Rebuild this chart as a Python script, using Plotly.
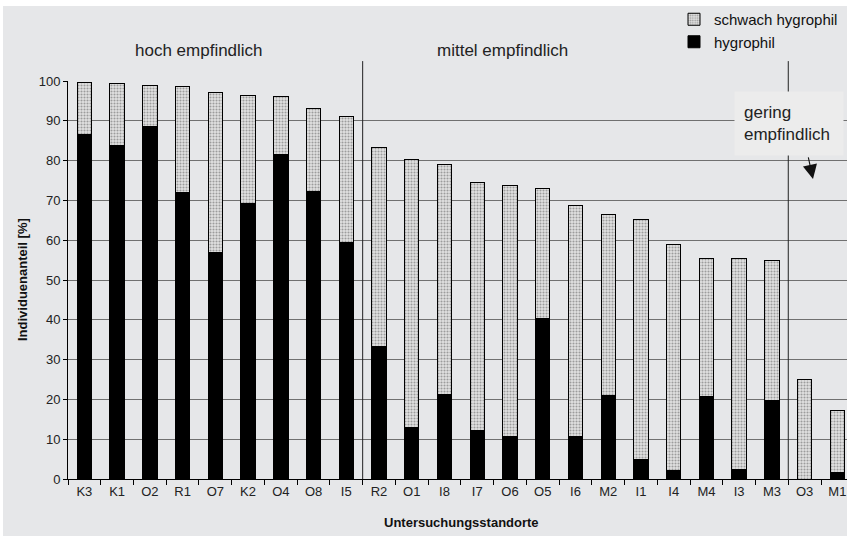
import plotly.graph_objects as go

categories = ["K3", "K1", "O2", "R1", "O7", "K2", "O4", "O8", "I5", "R2", "O1", "I8",
              "I7", "O6", "O5", "I6", "M2", "I1", "I4", "M4", "I3", "M3", "O3", "M1"]
total = [99.7, 99.3, 98.9, 98.7, 97.0, 96.3, 96.1, 93.0, 91.0, 83.3, 80.3, 79.1,
         74.5, 73.8, 73.1, 68.8, 66.5, 65.3, 59.0, 55.5, 55.3, 54.8, 25.0, 17.3]
hygrophil = [86.5, 83.7, 88.5, 72.0, 57.0, 69.2, 81.5, 72.3, 59.5, 33.3, 13.0, 21.3,
             12.2, 10.8, 40.4, 10.8, 21.0, 4.8, 2.2, 20.8, 2.4, 19.6, 0.0, 1.6]
schwach = [round(t - h, 1) for t, h in zip(total, hygrophil)]

group_labels = ["hoch empfindlich", "mittel empfindlich"]
group_label_x = [3.5, 12.76]
separators = [8.5, 21.5]

FONT = "Liberation Sans, Arial, sans-serif"
BG = "#e6e7e9"

W, H = 847, 536
L, T, B = 68, 81, 57
PW, PH = W - L, H - T - B

fig = go.Figure()
fig.add_trace(go.Bar(
    x=categories, y=hygrophil, name="hygrophil", width=0.44,
    marker=dict(color="black", line=dict(color="black", width=1)),
))
fig.add_trace(go.Bar(
    x=categories, y=schwach, name="schwach hygrophil", width=0.44,
    marker=dict(color="white", line=dict(color="black", width=1),
                pattern=dict(shape=".", fgcolor="#555555", bgcolor="#e2e2e2",
                             size=3, solidity=0.4)),
))

shapes = []
for s in separators:
    shapes.append(dict(type="line", xref="x", yref="paper", x0=s, x1=s, y0=0, y1=1.05,
                       line=dict(color="#222", width=1)))
# thin white border of the original image (top and left)
shapes.append(dict(type="rect", xref="paper", yref="paper", x0=-L / PW - 0.01, x1=1.01,
                   y0=1 + (T - 6) / PH, y1=1 + T / PH + 0.01,
                   fillcolor="white", line=dict(width=0), layer="below"))
shapes.append(dict(type="rect", xref="paper", yref="paper", x0=-L / PW - 0.01, x1=(3 - L) / PW,
                   y0=-B / PH - 0.01, y1=1 + T / PH + 0.01,
                   fillcolor="white", line=dict(width=0), layer="below"))

annotations = []
for lbl, gx in zip(group_labels, group_label_x):
    annotations.append(dict(text=lbl, x=gx, y=1 + (T - 50) / PH, xref="x", yref="paper",
                            xanchor="center", yanchor="middle",
                            showarrow=False, font=dict(size=17, color="#222", family=FONT)))
annotations.append(dict(text="gering<br>empfindlich", x=(789 - L) / PW, y=1 - (123 - T) / PH,
                        xref="paper", yref="paper", showarrow=False, align="left",
                        xanchor="center", yanchor="middle",
                        bgcolor="#ececec", borderpad=9, width=90, height=45,
                        font=dict(size=17, color="#222", family=FONT)))
annotations.append(dict(text="", x=22.255, y=75.4, xref="x", yref="y", ax=-5, ay=-23,
                        showarrow=True, arrowhead=2, arrowsize=2.6, arrowwidth=1.1,
                        arrowcolor="#111"))
annotations.append(dict(text="<b>Untersuchungsstandorte</b>", x=(461 - L) / PW,
                        y=-(522 - (H - B)) / PH, xanchor="center",
                        xref="paper", yref="paper", showarrow=False, yanchor="middle",
                        font=dict(size=13, color="#111", family=FONT)))
annotations.append(dict(text="<b>Individuenanteil [%]</b>", x=(22 - L) / PW, y=(479 - 280) / PH,
                        xref="paper", yref="paper", showarrow=False, textangle=-90,
                        xanchor="center", yanchor="middle",
                        font=dict(size=13, color="#111", family=FONT)))

fig.update_layout(
    width=W, height=H,
    margin=dict(l=L, r=0, t=T, b=B),
    paper_bgcolor=BG, plot_bgcolor=BG,
    barmode="stack",
    font=dict(family=FONT, color="#222", size=13),
    showlegend=True,
    legend=dict(traceorder="reversed", x=(674 - L) / PW, xanchor="left",
                y=1 + (T - 3) / PH, yanchor="top", bgcolor="rgba(0,0,0,0)",
                font=dict(size=15, color="#111", family=FONT),
                itemwidth=30, tracegroupgap=0),
    shapes=shapes, annotations=annotations,
    xaxis=dict(range=[-0.5, -0.5 + PW / 32.74], showline=True, linecolor="black", linewidth=1,
               ticks="outside", tickson="boundaries", ticklen=5, tickcolor="black",
               showgrid=False, tickfont=dict(size=13, color="#222")),
    yaxis=dict(range=[0, 100], dtick=10, showline=True, linecolor="black", linewidth=1,
               ticks="outside", ticklen=4, tickcolor="black",
               gridcolor="#707070", gridwidth=1, zeroline=False,
               tickfont=dict(size=13, color="#222")),
)

fig.write_html("out.html", config={"displayModeBar": False},
               post_script="document.body.style.margin='0';document.body.style.overflow='hidden';")
